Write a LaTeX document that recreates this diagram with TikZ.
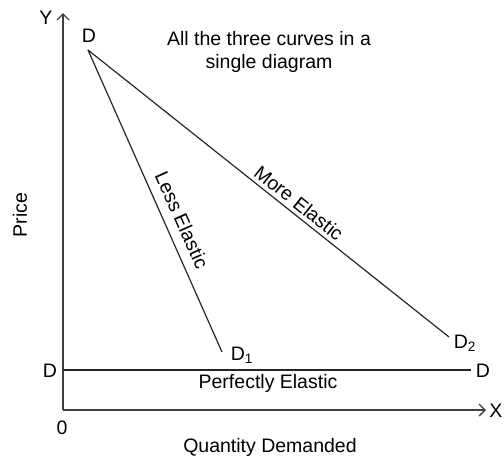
\documentclass[tikz,border=0pt]{standalone}
\usepackage{fontspec}
\setmainfont{Liberation Sans}
\usetikzlibrary{arrows.meta}
\begin{document}
\begin{tikzpicture}[x=1pt,y=-1pt,
  lbl/.style={inner sep=0pt,font=\fontsize{19.5}{23}\selectfont},
  curve/.style={line width=1.2pt,draw=black!85},
  axis/.style={line width=1.4pt,draw=black!75,-{Straight Barb[length=6pt,width=12pt,line width=1.4pt]}}]
\useasboundingbox (0,0) rectangle (504,466);
% points
\coordinate (O) at (63,410);
\coordinate (Ytip) at (63,13);
\coordinate (Xtip) at (486,410);
\coordinate (Dtop) at (88,50);
\coordinate (D1end) at (222,352);
\coordinate (D2end) at (449,337);
\coordinate (PEl) at (63,370);
\coordinate (PEr) at (471,370);
% axes
\draw[axis] (O) -- (Ytip);
\draw[axis] (O) -- (Xtip);
% curves
\draw[curve] (Dtop) -- (D1end);
\draw[curve] (Dtop) -- (D2end);
\draw[curve] (PEl) -- (PEr);
% labels
\node[lbl] (Ylab) at (46,18) {Y};
\node[lbl] (Xlab) at (496,411) {X};
\node[lbl] (zero) at (62,428) {0};
\node[lbl,rotate=90] (price) at (20,215) {Price};
\node[lbl] (qd) at (270,447) {Quantity Demanded};
\node[lbl] (Dtoplab) at (89,36) {D};
\node[lbl,align=center] (title) at (269,52) {All the three curves in a\\single diagram};
\node[lbl,rotate=-66] (less) at (182,220) {Less Elastic};
\node[lbl,rotate=-38.5] (more) at (299,203) {More Elastic};
\node[lbl] (D1lab) at (242,355) {D\textsubscript{1}};
\node[lbl] (D2lab) at (465,343) {D\textsubscript{2}};
\node[lbl] (Dleft) at (50,371) {D};
\node[lbl] (Dright) at (483,371) {D};
\node[lbl] (pe) at (268,383) {Perfectly Elastic};
\end{tikzpicture}
\end{document}
